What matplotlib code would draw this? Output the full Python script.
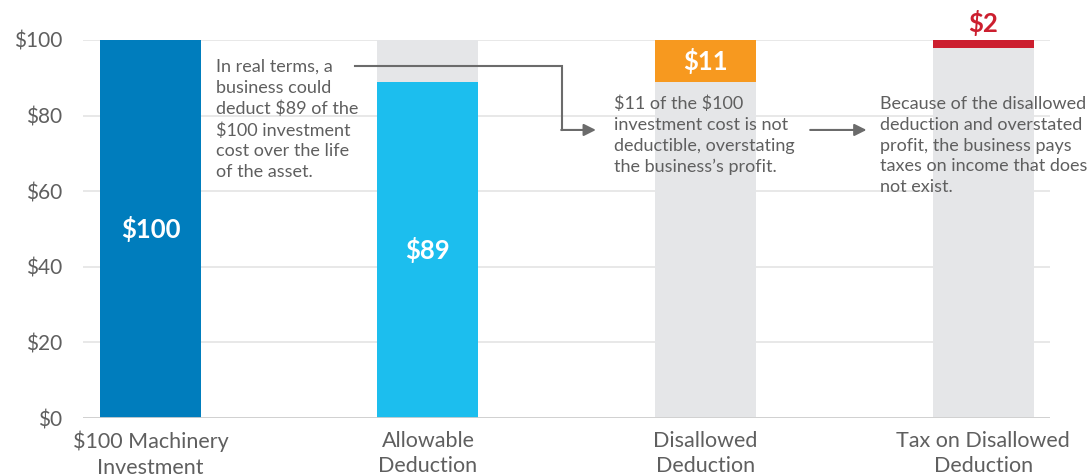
import matplotlib
matplotlib.use("Agg")
import matplotlib.pyplot as plt

plt.rcParams['font.family'] = ['Lato', 'DejaVu Sans']
plt.rcParams['text.parse_math'] = False

categories = ["$100 Machinery\nInvestment", "Allowable\nDeduction",
              "Disallowed\nDeduction", "Tax on Disallowed\nDeduction"]
background = [0, 100, 89, 98]        # grey part
highlight = [100, 89, 11, 2]          # coloured part
highlight_base = [0, 0, 89, 98]
labels = ["$100", "$89", "$11", "$2"]
yticks = [0, 20, 40, 60, 80, 100]
ytick_labels = ["$0", "$20", "$40", "$60", "$80", "$100"]

colors = ["#007DBD", "#1CBEEE", "#F7991F", "#CC1F2F"]
grey = "#E5E6E8"
text_col = "#5F5F5F"
arrow_col = "#6B6B6B"

fig = plt.figure(figsize=(10.92, 4.76), dpi=100)
ax = fig.add_axes([0.076, 0.1218, 0.8855, 0.7942])

x = list(range(len(categories)))
w = 0.364
ax.bar(x, background, width=w, color=grey, zorder=2)
ax.bar(x, highlight, bottom=highlight_base, width=w, color=colors, zorder=3)

ax.set_xlim(-0.243, 3.241)
ax.set_ylim(0, 100)
ax.set_yticks(yticks)
ax.set_yticklabels(ytick_labels)
ax.set_xticks(x)
ax.set_xticklabels(categories)
ax.tick_params(axis='y', length=0, pad=15, labelsize=15, labelcolor=text_col)
ax.tick_params(axis='x', length=0, pad=9, labelsize=15.5, labelcolor=text_col)
for lab in ax.get_xticklabels():
    lab.set_linespacing(1.36)
for s in ax.spines.values():
    s.set_visible(False)
ax.grid(axis='y', color="#E6E6E6", linewidth=1.3, zorder=0)
ax.set_axisbelow(True)
ax.axhline(0, color="#CFCFCF", linewidth=2, zorder=4)

# value labels
for i in range(3):
    mid = highlight_base[i] + highlight[i] / 2
    ax.text(x[i], mid, labels[i], ha='center', va='center', color='white',
            fontsize=18.5, fontweight='bold', zorder=5)
ax.text(x[3], highlight_base[3] + highlight[3] + 4.5, labels[3], ha='center',
        va='center', color=colors[3], fontsize=18.5, fontweight='bold',
        clip_on=False, zorder=5)

# annotations
ann_kw = dict(fontsize=13, color=text_col, va='top', ha='left',
              linespacing=1.37, zorder=6)
ax.text(0.236, 95.0, "In real terms, a\nbusiness could\ndeduct $89 of the\n"
        "$100 investment\ncost over the life\nof the asset.", **ann_kw)
ax.text(1.670, 85.2, "$11 of the $100\ninvestment cost is not\n"
        "deductible, overstating\nthe business\u2019s profit.", **ann_kw)
ax.text(2.629, 85.2, "Because of the disallowed\ndeduction and overstated\n"
        "profit, the business pays\ntaxes on income that does\nnot exist.",
        clip_on=False, **ann_kw)

# arrows
ax.plot([0.737, 1.483, 1.483], [93.1, 93.1, 76.2], color=arrow_col,
        linewidth=1.5, zorder=6, solid_joinstyle='miter')
ax.annotate("", xy=(1.605, 76.2), xytext=(1.480, 76.2),
            arrowprops=dict(arrowstyle='-|>', color=arrow_col, lw=1.5,
                            mutation_scale=18, shrinkA=0, shrinkB=0), zorder=6)
ax.annotate("", xy=(2.580, 76.2), xytext=(2.377, 76.2),
            arrowprops=dict(arrowstyle='-|>', color=arrow_col, lw=1.5,
                            mutation_scale=18, shrinkA=0, shrinkB=0), zorder=6)

fig.savefig("out.png", dpi=100)
